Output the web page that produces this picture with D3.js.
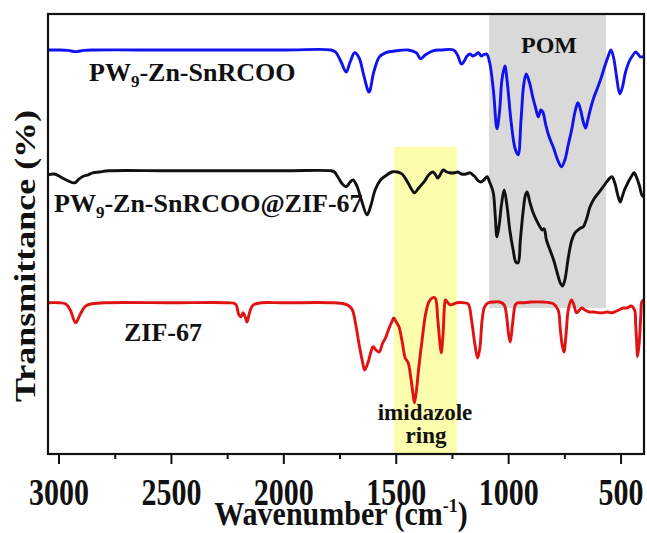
<!DOCTYPE html>
<html>
<head>
<meta charset="utf-8">
<script src="https://cdn.jsdelivr.net/npm/d3@7"></script>
<style>
  html, body { margin: 0; padding: 0; background: #fff; }
  svg { display: block; }
  text { font-family: "Liberation Serif", "Times New Roman", serif; font-weight: bold; fill: #111; }
</style>
</head>
<body>
<svg id="chart" width="647" height="533"></svg>
<script>
// FTIR spectra: [wavenumber (cm-1), transmittance (a.u., stacked)]
const pomSpectrum = [
  [3050,101],[3000,101],[2960,100.9],[2926,100.6],[2890,100.9],[2850,101],[2500,101],[2000,101],
  [1790,101],[1770,100.5],[1745,98],[1723,95.5],[1705,98],[1685,100.3],[1665,99],[1645,94.8],
  [1621,90.5],[1600,95.5],[1575,99.3],[1548,100.3],[1500,100.8],[1447,101],[1410,100.3],[1392,98.8],
  [1370,99.8],[1337,100.8],[1300,101],[1245,101],[1228,99.8],[1210,97.5],[1195,98.5],[1185,99.5],
  [1171,100],[1160,99.5],[1148,99.8],[1134,100.3],[1122,99.5],[1112,99.8],[1098,100],[1085,98],
  [1068,91],[1052,81.3],[1040,86],[1030,93.5],[1017,97],[1005,92.3],[990,83.5],[972,76.5],
  [958,74.8],[945,83.5],[933,92.3],[922,95],[908,93],[893,89.3],[880,86.5],[868,84.3],[857,86],
  [848,85.5],[835,82.3],[820,79.3],[800,76.5],[782,73.5],[765,71.8],[750,73.5],[735,77.3],[720,81],
  [705,85.5],[692,87.8],[680,86],[668,83],[658,81.5],[648,83.5],[635,86.5],[620,89.3],[605,91.5],
  [590,93.8],[575,96.5],[560,99],[545,101],[533,99],[520,94.3],[506,90],[495,91.5],[480,95.5],
  [465,98],[450,99.5],[435,100.5],[425,100],[415,99.3],[405,99.3],[400,99.3]
];

const compositeSpectrum = [
  [3050,69.8],[3020,70],[3000,69.5],[2985,69],[2960,68.3],[2930,67.8],[2910,68.8],[2890,69.5],
  [2870,69.8],[2850,70.3],[2820,70.5],[2780,70.8],[2500,70.8],[2000,70.8],[1790,70.8],[1775,70.5],
  [1760,69.3],[1740,67.5],[1723,66.8],[1705,68],[1692,68.5],[1675,67],[1655,63.5],[1630,59.8],
  [1612,62.3],[1594,66],[1570,68.5],[1548,69.5],[1520,70.5],[1495,70.5],[1474,70],[1450,68],
  [1430,66],[1419,65.3],[1400,66.5],[1373,68.3],[1355,69.8],[1337,70.5],[1325,69.8],[1315,69],
  [1300,70.3],[1291,71],[1275,70.5],[1263,70.3],[1240,70.3],[1226,70.5],[1210,70],[1190,70],
  [1171,70.3],[1160,69.8],[1150,69.3],[1135,68.3],[1125,68],[1110,68.5],[1096,69.3],[1085,68],
  [1069,65.5],[1060,59.8],[1052,54.3],[1042,57.3],[1032,62.3],[1020,66],[1008,62.3],[995,56],
  [980,51],[968,48],[958,47.8],[948,53.5],[935,61],[925,64.8],[918,65.5],[905,62.8],[891,60.3],
  [875,58.3],[861,56.8],[850,56],[842,56.3],[832,53.5],[816,51],[800,48.5],[785,45.5],[772,43],
  [760,42],[750,43.5],[735,49],[719,53.5],[705,55.3],[691,56],[680,56.5],[668,56.8],[655,58.5],
  [638,61.8],[620,63.8],[600,65.3],[580,66.8],[560,68.3],[541,69.3],[528,67.8],[515,64.8],
  [504,63],[495,64.3],[485,66],[470,67.8],[455,69.3],[442,70.3],[430,69],[418,67],[408,64.8],[400,64.3]
];

const zifSpectrum = [
  [3050,37.8],[3000,37.8],[2970,37.5],[2950,36],[2926,32.8],[2905,35],[2885,36.8],[2860,37.5],
  [2800,37.8],[2500,37.8],[2250,37.8],[2215,37.5],[2200,34.8],[2190,34.3],[2182,35.3],[2172,34.3],
  [2164,33],[2150,35.8],[2136,37.3],[2100,37.8],[2000,37.8],[1780,37.8],[1730,37.5],[1710,37],
  [1695,36],[1680,32.3],[1665,27.3],[1650,23],[1640,21],[1625,23],[1610,26],[1603,26.8],[1590,26],
  [1576,25.5],[1560,27.8],[1548,29],[1535,31],[1520,33],[1511,34],[1500,33],[1488,31.8],[1475,28.5],
  [1460,24],[1447,22.8],[1435,19],[1425,14.8],[1419,12.8],[1410,16],[1400,21.5],[1385,28.5],
  [1370,34.8],[1355,38],[1340,39],[1327,39],[1315,33.5],[1305,27.3],[1300,25.3],[1292,29.8],
  [1285,37.3],[1281,38.5],[1270,37.8],[1260,37.3],[1230,37.8],[1200,37.8],[1180,37.5],[1165,33.5],
  [1150,27.3],[1138,24],[1128,26.5],[1118,33.5],[1107,36.8],[1090,37.8],[1061,38],[1040,38],
  [1020,37.3],[1010,34.8],[1000,29.8],[993,28],[983,32.3],[970,37.3],[960,37.8],[940,37.8],
  [900,38],[850,38],[800,37.5],[780,36],[770,31],[762,27.3],[754,25.5],[745,29.8],[735,36],
  [721,38.5],[710,37.3],[698,35.3],[685,36],[675,36.5],[660,36],[640,35.5],[620,35.5],[600,35.3],
  [580,35.3],[560,35.5],[546,35.3],[530,35.5],[510,36],[490,36.5],[473,36.5],[455,37],[440,36],
  [435,32.3],[430,27.3],[427,24.3],[420,27.3],[412,34.8],[408,38],[400,38.5]
];

// Highlighted wavenumber bands
const pomBand = [1087, 567];
const imidazoleBand = [1510, 1230];

// Axis ticks
const majorTicks = [3000, 2500, 2000, 1500, 1000, 500];
const minorTicks = [2750, 2250, 1750, 1250, 750];

const margin = { left: 48, right: 3, top: 14, bottom: 79 };
const W = 647, H = 533;
const plotW = W - margin.left - margin.right;
const plotH = H - margin.top - margin.bottom;

const svg = d3.select("#chart");
const g = svg.append("g").attr("transform", `translate(${margin.left},${margin.top})`);

const x = d3.scaleLinear().domain([3049, 398]).range([0, plotW]);
const y = d3.scaleLinear().domain([0, 110]).range([plotH, 0]);

g.append("clipPath").attr("id", "plotClip")
  .append("rect").attr("width", plotW).attr("height", plotH);

const plot = g.append("g").attr("clip-path", "url(#plotClip)");

// Shaded bands
plot.append("rect")
  .attr("x", x(pomBand[0])).attr("width", x(pomBand[1]) - x(pomBand[0]))
  .attr("y", 0).attr("height", y(36.5))
  .attr("fill", "#d9d9d9");

plot.append("rect")
  .attr("x", x(imidazoleBand[0])).attr("width", x(imidazoleBand[1]) - x(imidazoleBand[0]))
  .attr("y", y(76.8)).attr("height", plotH - y(76.8))
  .attr("fill", "#fcfcad");

const line = d3.line()
  .x(d => x(d[0]))
  .y(d => y(d[1]))
  .curve(d3.curveCatmullRom.alpha(0.5));

const series = [
  { data: pomSpectrum, color: "#1212ee" },
  { data: compositeSpectrum, color: "#111111" },
  { data: zifSpectrum, color: "#e01212" }
];

plot.selectAll("path.spec").data(series).join("path")
  .attr("class", "spec")
  .attr("d", d => line(d.data))
  .attr("fill", "none")
  .attr("stroke", d => d.color)
  .attr("stroke-width", 2.9)
  .attr("stroke-linejoin", "round");

// Frame
g.append("rect").attr("width", plotW).attr("height", plotH)
  .attr("fill", "none").attr("stroke", "#111").attr("stroke-width", 2.2);

// Bottom axis: outward major/minor ticks, tall bold numerals
const xAxis = g.append("g").attr("transform", `translate(0,${plotH})`);
xAxis.selectAll("line.major").data(majorTicks).join("line")
  .attr("x1", d => x(d)).attr("x2", d => x(d))
  .attr("y1", 0).attr("y2", 10)
  .attr("stroke", "#111").attr("stroke-width", 2);
xAxis.selectAll("line.minor").data(minorTicks).join("line")
  .attr("x1", d => x(d)).attr("x2", d => x(d))
  .attr("y1", 0).attr("y2", 5)
  .attr("stroke", "#111").attr("stroke-width", 2);
xAxis.selectAll("g.tick").data(majorTicks).join("g")
  .attr("class", "tick")
  .attr("transform", d => `translate(${x(d)},51) scale(1,1.25)`)
  .append("text")
  .attr("text-anchor", "middle")
  .attr("font-size", 30)
  .text(d => d);

// Axis titles
const xTitle = svg.append("g").attr("transform", "translate(341,525) scale(1,1.1)")
  .append("text").attr("text-anchor", "middle").attr("font-size", 30);
xTitle.append("tspan").text("Wavenumber (cm");
xTitle.append("tspan").attr("font-size", 18).attr("dy", -12).text("-1");
xTitle.append("tspan").attr("dy", 12).text(")");

svg.append("text")
  .attr("transform", "translate(35,256) rotate(-90) scale(1.2,1)")
  .attr("text-anchor", "middle").attr("font-size", 30)
  .text("Transmittance (%)");

// Series labels
function pwLabel(px, py, suffix) {
  const t = svg.append("text").attr("x", px).attr("y", py).attr("font-size", 26);
  t.append("tspan").text("PW");
  t.append("tspan").attr("font-size", 17).attr("dy", 6).text("9");
  t.append("tspan").attr("dy", -6).text("-Zn-SnRCOO" + suffix);
}
pwLabel(89, 81, "");
pwLabel(54, 212, "@ZIF-67");

svg.append("text").attr("x", 124).attr("y", 341).attr("font-size", 26).text("ZIF-67");

// Band labels
svg.append("text").attr("x", 549).attr("y", 53).attr("text-anchor", "middle")
  .attr("font-size", 24).text("POM");
svg.append("text").attr("x", 425).attr("y", 420).attr("text-anchor", "middle")
  .attr("font-size", 23).text("imidazole");
svg.append("text").attr("x", 426).attr("y", 443).attr("text-anchor", "middle")
  .attr("font-size", 23).text("ring");
</script>
</body>
</html>
